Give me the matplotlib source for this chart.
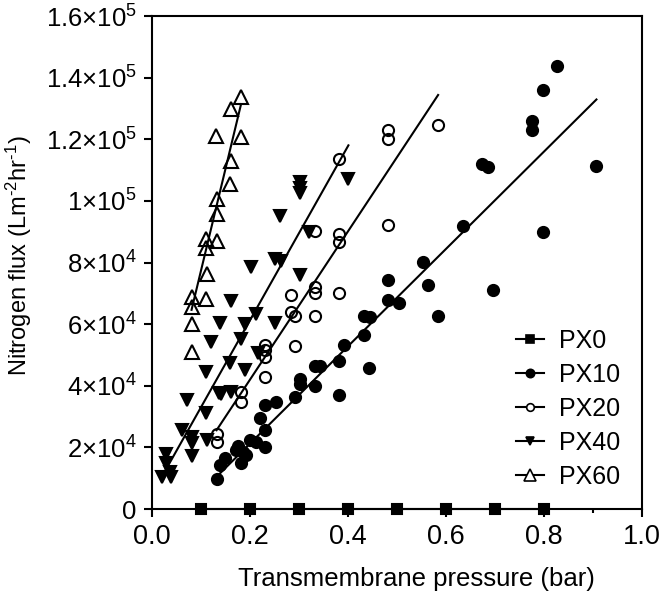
import matplotlib
matplotlib.use("Agg")
import matplotlib.pyplot as plt
import numpy as np
from matplotlib.lines import Line2D
from matplotlib.ticker import MultipleLocator

plt.rcParams['font.family'] = ['Liberation Sans', 'DejaVu Sans']
plt.rcParams['mathtext.fontset'] = 'custom'
plt.rcParams['mathtext.rm'] = 'Liberation Sans'
plt.rcParams['mathtext.it'] = 'Liberation Sans:italic'
plt.rcParams['mathtext.bf'] = 'Liberation Sans:bold'

# --- data: transmembrane pressure (bar) vs nitrogen flux (L m-2 hr-1) ---
px0_x = [0.1, 0.2, 0.3, 0.4, 0.5, 0.6, 0.7, 0.8]
px0_y = [0, 0, 0, 0, 0, 0, 0, 0]

px10_x = [0.826, 0.797, 0.776, 0.776, 0.674, 0.686, 0.907, 0.635, 0.797, 0.695,
          0.554, 0.482, 0.564, 0.482, 0.505, 0.584, 0.433, 0.445, 0.433, 0.392,
          0.382, 0.333, 0.343, 0.443, 0.302, 0.302, 0.333, 0.382, 0.293, 0.253,
          0.231, 0.220, 0.231, 0.200, 0.212, 0.231, 0.176, 0.171, 0.186, 0.193,
          0.149, 0.139, 0.181, 0.132]
px10_y = [143800, 135900, 126000, 123000, 112000, 111100, 111200, 92000, 90000, 71200,
          80100, 74200, 72600, 67700, 66800, 62500, 62500, 62300, 56400, 53100,
          48000, 46300, 46300, 45900, 42300, 40700, 39800, 36900, 36200, 34800,
          33700, 29400, 25600, 22300, 21800, 20200, 20400, 19100, 18600, 17500,
          16400, 14300, 14800, 9900]

px20_x = [0.132, 0.132, 0.181, 0.181, 0.231, 0.231, 0.231, 0.231, 0.283, 0.283,
          0.293, 0.293, 0.333, 0.333, 0.333, 0.333, 0.382, 0.382, 0.382, 0.382,
          0.482, 0.482, 0.482, 0.584]
px20_y = [24500, 21800, 38000, 34800, 53100, 51500, 49300, 42700, 69600, 63900,
          62800, 52800, 90100, 72200, 70100, 62600, 113600, 89300, 86600, 70100,
          123000, 120100, 92300, 124700]

px40_x = [0.302, 0.302, 0.302, 0.401, 0.261, 0.321, 0.251, 0.263, 0.202, 0.302,
          0.161, 0.140, 0.191, 0.251, 0.212, 0.120, 0.181, 0.159, 0.110, 0.191,
          0.217, 0.137, 0.142, 0.161, 0.071, 0.110, 0.061, 0.081, 0.081, 0.112,
          0.081, 0.029, 0.029, 0.020, 0.040, 0.037]
px40_y = [106000, 104200, 102500, 107100, 95200, 89800, 81200, 80600, 78500, 75800,
          67500, 60300, 59900, 60300, 63200, 54200, 55300, 47400, 44500, 45200,
          50600, 37700, 37200, 38000, 35300, 31200, 25800, 23400, 21500, 22300,
          17200, 18000, 15000, 10500, 10500, 12100]

px60_x = [0.181, 0.161, 0.131, 0.182, 0.161, 0.159, 0.132, 0.132, 0.110, 0.132,
          0.110, 0.112, 0.081, 0.110, 0.081, 0.081, 0.081]
px60_y = [133800, 129800, 121100, 120600, 113000, 105500, 100600, 95800, 87700, 86900,
          84800, 76300, 68800, 68200, 65700, 59900, 50800]

series_names = ['PX0', 'PX10', 'PX20', 'PX40', 'PX60']
# linear fits as drawn in the figure (slope per bar, intercept)
fit_slope = [0, 158000, 240700, 282600, 661000]
fit_icept = [0, -10400, -6200, 4700, 11100]

xticks = [0.0, 0.2, 0.4, 0.6, 0.8, 1.0]
yticks = [0, 20000, 40000, 60000, 80000, 100000, 120000, 140000, 160000]
ytick_labels = ['0', r'$2{\times}10^{4}$', r'$4{\times}10^{4}$', r'$6{\times}10^{4}$',
                r'$8{\times}10^{4}$', r'$1{\times}10^{5}$', r'$1.2{\times}10^{5}$',
                r'$1.4{\times}10^{5}$', r'$1.6{\times}10^{5}$']

xs = [px0_x, px10_x, px20_x, px40_x, px60_x]
ys = [px0_y, px10_y, px20_y, px40_y, px60_y]
markers = ['s', 'o', 'o', 'v', '^']
filled = [True, True, False, True, False]
msizes = [7, 8, 8, 8, 10]
leg_msizes = [6, 6, 5.5, 6, 8]

fig = plt.figure(figsize=(6.66, 5.95), dpi=100)
ax = fig.add_axes([0.228, 0.1445, 0.736, 0.8286])

for i in range(len(series_names)):
    x = np.array(xs[i])
    y = np.array(ys[i])
    xl = np.array([x.min(), x.max()])
    ax.plot(xl, fit_slope[i] * xl + fit_icept[i], color='black', lw=1.5,
            clip_on=False, zorder=2)
    ax.plot(x, y, linestyle='none', marker=markers[i], ms=msizes[i],
            mfc='black' if filled[i] else 'none', mec='black', mew=1.5,
            clip_on=False, zorder=3)

handles = [Line2D([], [], color='black', lw=1.5, marker=markers[i], ms=leg_msizes[i],
                  mfc='black' if filled[i] else 'white', mec='black', mew=1.2)
           for i in range(len(series_names))]
ax.legend(handles, series_names, loc='lower right', bbox_to_anchor=(0.975, 0.02),
          frameon=False, fontsize=18, handlelength=1.1, handletextpad=0.6,
          labelspacing=0.4, borderaxespad=0)

ax.set_xlim(0, 1.0)
ax.set_ylim(0, 160000)
ax.set_xticks(xticks, [f'{t:.1f}' for t in xticks])
ax.xaxis.set_minor_locator(MultipleLocator(0.1))
ax.set_yticks(yticks, ytick_labels)

ax.tick_params(axis='both', which='major', direction='out', length=6, width=1.5, pad=5)
ax.tick_params(axis='x', which='major', labelsize=19.5)
ax.tick_params(axis='y', which='major', labelsize=18.5)
ax.tick_params(axis='x', which='minor', direction='out', length=3, width=1.5)
for s in ax.spines.values():
    s.set_linewidth(1.5)

ax.set_xlabel('Transmembrane pressure (bar)', fontsize=18.5)
ax.xaxis.set_label_coords(0.54, -0.118)
ax.set_ylabel('Nitrogen flux (Lm$^{\\mathregular{\u20102}}$hr$^{\\mathregular{\u20101}}$)',
              fontsize=17)
ax.yaxis.set_label_coords(-0.24, 0.513)

fig.savefig('out.png', dpi=100)
